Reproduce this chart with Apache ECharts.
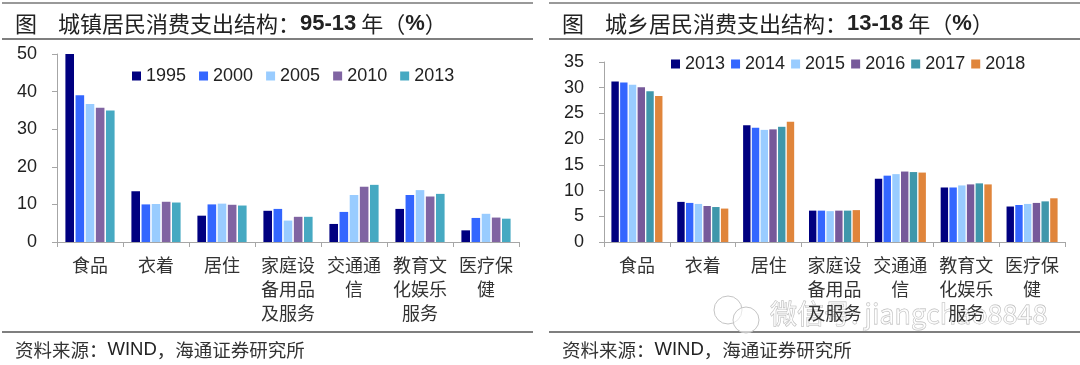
<!DOCTYPE html>
<html>
<head>
<meta charset="utf-8">
<script src="https://cdn.jsdelivr.net/npm/echarts@6/dist/echarts.min.js"></script>
<style>
  html, body { margin: 0; padding: 0; background: #fff; }
  #chartLeft, #chartRight { position: absolute; top: 0; width: 540px; height: 365px; }
  #chartLeft { left: 0; }
  #chartRight { left: 540px; }
</style>
</head>
<body>
<div id="chartLeft"></div>
<div id="chartRight"></div>
<script>
var categoriesLeft = ['食品', '衣着', '居住', '家庭设\n备用品\n及服务', '交通通\n信', '教育文\n化娱乐\n服务', '医疗保\n健'];
var yearsLeft = ['1995', '2000', '2005', '2010', '2013'];
var values1995 = [50, 13.5, 7, 8.3, 4.8, 8.8, 3.1];
var values2000 = [39, 10, 10, 8.8, 8, 12.5, 6.4];
var values2005 = [36.7, 10.1, 10.2, 5.7, 12.5, 13.8, 7.5];
var values2010 = [35.7, 10.7, 9.9, 6.7, 14.7, 12.1, 6.5];
var values2013 = [35, 10.5, 9.7, 6.7, 15.2, 12.8, 6.2];

var categoriesRight = ['食品', '衣着', '居住', '家庭设\n备用品\n及服务', '交通通\n信', '教育文\n化娱乐\n服务', '医疗保\n健'];
var yearsRight = ['2013', '2014', '2015', '2016', '2017', '2018'];
var rural2013 = [31.2, 7.8, 22.7, 6.1, 12.3, 10.6, 6.9];
var rural2014 = [31, 7.6, 22.2, 6.1, 12.9, 10.6, 7.2];
var rural2015 = [30.6, 7.4, 21.8, 6, 13.2, 11, 7.4];
var rural2016 = [30.1, 7, 21.9, 6.1, 13.7, 11.2, 7.6];
var rural2017 = [29.3, 6.8, 22.4, 6.1, 13.6, 11.4, 7.9];
var rural2018 = [28.4, 6.5, 23.4, 6.2, 13.5, 11.2, 8.5];

var colorsLeft = ['#000080', '#3366ff', '#99ccff', '#8064a2', '#46a9c2'];
var colorsRight = ['#000080', '#3366ff', '#99ccff', '#76599a', '#3f97ab', '#e0853b'];

var cjk = '"Noto Sans CJK SC"';
var latin = '"Liberation Sans"';

function buildSeries(names, rows, barWidth, barGap) {
    return names.map(function (name, i) {
        return {
            name: name,
            type: 'bar',
            data: rows[i],
            barWidth: barWidth,
            barGap: barGap,
            animation: false
        };
    });
}

function hLine(x1, x2, y, color) {
    return {
        type: 'line',
        shape: { x1: x1, y1: y, x2: x2, y2: y },
        style: { stroke: color, lineWidth: 1.5 }
    };
}

function bubble(cx, cy, r) {
    return { type: 'circle', silent: true, shape: { cx: cx, cy: cy, r: r }, style: { fill: 'rgba(255,255,255,0.6)', stroke: '#c4c4c4', lineWidth: 1 } };
}

function buildOption(cfg) {
    return {
        color: cfg.colors,
        animation: false,
        title: [{
            left: cfg.x0 + 8,
            top: 8,
            text: '{c|图}{gap|}{c|' + cfg.heading + '：}{b|' + cfg.span + '}{c| 年（}{b|%}{c|）}',
            textStyle: {
                fontWeight: 'normal',
                rich: {
                    c: { fontFamily: cjk, fontSize: 22, fontWeight: 'normal', color: '#222' },
                    b: { fontFamily: latin, fontSize: 22, fontWeight: 'bold', color: '#222' },
                    gap: { width: 21 }
                }
            }
        }, {
            left: cfg.x0 + 8,
            top: 335,
            text: '{c|资料来源：}{l|WIND}{c|，海通证券研究所}',
            textStyle: {
                fontWeight: 'normal',
                rich: {
                    c: { fontFamily: cjk, fontSize: 18.5, fontWeight: 'normal', color: '#333' },
                    l: { fontFamily: latin, fontSize: 18.5, fontWeight: 'normal', color: '#222' }
                }
            }
        }],
        legend: {
            left: cfg.legendLeft,
            top: cfg.legendTop,
            icon: 'rect',
            itemWidth: 9,
            itemHeight: 9,
            itemGap: cfg.legendGap,
            data: cfg.years,
            textStyle: { fontFamily: latin, fontSize: 18, color: '#222' }
        },
        grid: { left: cfg.gridLeft, right: 540 - cfg.gridRight, top: cfg.gridTop, bottom: 365 - 242 },
        xAxis: {
            type: 'category',
            data: cfg.categories,
            axisLine: { lineStyle: { color: '#a6a6a6', width: 1 } },
            axisTick: { show: true, length: 5, lineStyle: { color: '#a6a6a6' } },
            axisLabel: {
                interval: 0,
                margin: 11,
                lineHeight: 24,
                fontFamily: cjk,
                fontSize: 18,
                color: '#333'
            }
        },
        yAxis: {
            type: 'value',
            min: 0,
            max: cfg.max,
            interval: cfg.interval,
            splitLine: { show: false },
            axisLine: { show: true, lineStyle: { color: '#a6a6a6', width: 1 } },
            axisTick: { show: true, length: 5, lineStyle: { color: '#a6a6a6' } },
            axisLabel: { margin: 20, fontFamily: latin, fontSize: 18, color: '#222' }
        },
        series: buildSeries(cfg.years, cfg.rows, cfg.barWidth, cfg.barGap),
        graphic: cfg.graphics
    };
}

var chartLeft = echarts.init(document.getElementById('chartLeft'));
chartLeft.setOption(buildOption({
    x0: 2,
    heading: '城镇居民消费支出结构',
    span: '95-13',
    colors: colorsLeft,
    years: yearsLeft,
    categories: categoriesLeft,
    rows: [values1995, values2000, values2005, values2010, values2013],
    max: 50,
    interval: 10,
    gridLeft: 57,
    gridRight: 519,
    gridTop: 54,
    barWidth: 8.6,
    barGap: '18%',
    legendLeft: 127,
    legendTop: 62,
    legendGap: 13,
    graphics: [hLine(2, 533, 3, '#777'), hLine(2, 533, 39, '#555'), hLine(2, 533, 332, '#555')]
}));

var chartRight = echarts.init(document.getElementById('chartRight'));
chartRight.setOption(buildOption({
    x0: 9,
    heading: '城乡居民消费支出结构',
    span: '13-18',
    colors: colorsRight,
    years: yearsRight,
    categories: categoriesRight,
    rows: [rural2013, rural2014, rural2015, rural2016, rural2017, rural2018],
    max: 35,
    interval: 5,
    gridLeft: 64,
    gridRight: 525,
    gridTop: 62,
    barWidth: 7.4,
    barGap: '18%',
    legendLeft: 126,
    legendTop: 50,
    legendGap: 6,
    graphics: [
        hLine(9, 540, 3, '#777'), hLine(9, 540, 39, '#555'), hLine(9, 540, 332, '#555'),
        bubble(188, 310, 14),
        bubble(206, 320, 13),
        {
            type: 'text',
            x: 230,
            y: 300,
            silent: true,
            style: {
                text: '微信号: jiangchao8848',
                fontFamily: cjk,
                fontSize: 27,
                fill: 'rgba(255,255,255,0.6)',
                stroke: '#b5b5b5',
                lineWidth: 0.8
            }
        }
    ]
}));
</script>
</body>
</html>
